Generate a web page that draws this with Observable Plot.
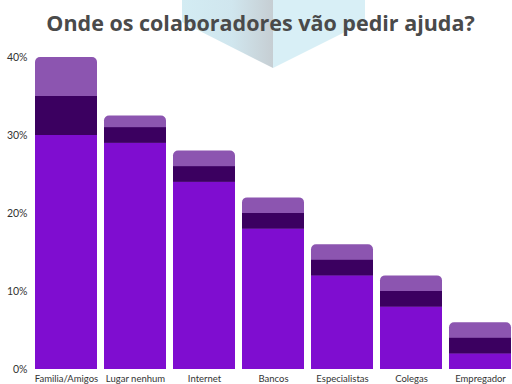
<!DOCTYPE html>
<html>
<head>
<meta charset="utf-8">
<script src="https://cdn.jsdelivr.net/npm/d3@7"></script>
<script src="https://cdn.jsdelivr.net/npm/@observablehq/plot@0.6"></script>
<style>
  html, body { margin: 0; padding: 0; background: #fff; }
  #wrap { position: relative; width: 512px; height: 384px; overflow: hidden; }
  #deco { position: absolute; left: 0; top: 0; }
  #title { position: absolute; left: 0; top: 0; width: 521px; height: 45px; text-align: center;
    font-family: "Open Sans", sans-serif; font-weight: 700; font-size: 21.5px; color: #4a4a4a;
    line-height: 45px; letter-spacing: 0px; }
  #chart { position: absolute; left: 0; top: 45px; }
</style>
</head>
<body>
<div id="wrap">
  <svg id="deco" width="512" height="80">
    <defs>
      <linearGradient id="lg" x1="0" y1="0" x2="1" y2="0">
        <stop offset="0" stop-color="#d3ecf3"/>
        <stop offset="0.55" stop-color="#d0e6ee"/>
        <stop offset="1" stop-color="#c6ced3"/>
      </linearGradient>
    </defs>
    <polygon points="182,0 273,0 273,68 182,22" fill="url(#lg)"/>
    <polygon points="273,0 365,0 365,22 273,68" fill="#d8eff6"/>
  </svg>
  <div id="title">Onde os colaboradores vão pedir ajuda?</div>
  <div id="chart"></div>
</div>
<script>
const categories = ["Familia/Amigos", "Lugar nenhum", "Internet", "Bancos", "Especialistas", "Colegas", "Empregador"];
const seriesBottom = [30, 29, 24, 18, 12, 8, 2];
const seriesMiddle = [5, 2, 2, 2, 2, 2, 2];
const seriesTop = [5, 1.5, 2, 2, 2, 2, 2];
const yTicks = [0, 10, 20, 30, 40];
const colors = { bottom: "#7f0dd0", middle: "#3b0060", top: "#8c55b0" };

const segments = [];
const totals = [];
categories.forEach((c, i) => {
  const b = seriesBottom[i], m = seriesMiddle[i], t = seriesTop[i];
  segments.push({ cat: c, seg: "bottom", y1: 0, y2: b });
  segments.push({ cat: c, seg: "middle", y1: b, y2: b + m });
  totals.push({ cat: c, total: b + m + t });
});

const chart = Plot.plot({
  width: 512,
  height: 339,
  marginTop: 12,
  marginBottom: 15,
  marginLeft: 35,
  marginRight: 0,
  style: { fontFamily: "Lato, sans-serif", fontSize: "10.5px", color: "#333", background: "transparent" },
  x: { domain: categories, paddingInner: 0.1, paddingOuter: 0, label: null, axis: null },
  y: { domain: [0, 40], ticks: yTicks, tickFormat: d => d + "%", label: null, tickSize: 0, tickPadding: 8 },
  color: { domain: ["bottom", "middle", "top"], range: [colors.bottom, colors.middle, colors.top] },
  marks: [
    Plot.gridY(yTicks, { stroke: "#e3e3e3", strokeOpacity: 1, x1: 35, x2: 512 }),
    Plot.barY(totals, { x: "cat", y: "total", fill: colors.top, rx: 5 }),
    Plot.barY(segments, { x: "cat", y1: "y1", y2: "y2", fill: "seg" }),
    Plot.axisX({ tickSize: 0, tickPadding: 6, fontSize: 9.5, label: null })
  ]
});
document.getElementById("chart").appendChild(chart);
</script>
</body>
</html>
